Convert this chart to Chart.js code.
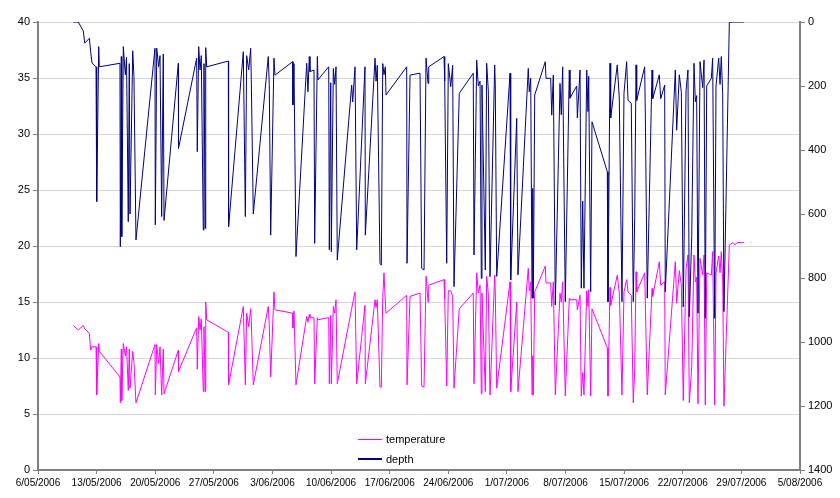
<!DOCTYPE html>
<html>
<head>
<meta charset="utf-8">
<script src="https://cdn.jsdelivr.net/npm/chart.js@4.4.1/dist/chart.umd.min.js"></script>
<style>
  html, body { margin: 0; padding: 0; background: #fff; }
  #wrap { position: relative; width: 840px; height: 498px; }
  #legend { position: absolute; left: 358px; top: 429px; font: 11px "Liberation Sans", Arial, sans-serif; color: #000; }
  #legend .row { display: flex; align-items: center; height: 20px; }
  #legend .swatch { width: 24px; margin-right: 4px; }
</style>
</head>
<body>
<div id="wrap">
  <canvas id="chart" width="840" height="498"></canvas>
  <div id="legend"></div>
</div>
<script>
/* ── Logger data: days since 6/05/2006, temperature (°C), depth (m) ── */
const START_DATE = Date.UTC(2006, 4, 6);
const X_TICK_DAYS = [0, 7, 14, 21, 28, 35, 42, 49, 56, 63, 70, 77, 84, 91];
const TEMP_TICKS = [0, 5, 10, 15, 20, 25, 30, 35, 40];
const DEPTH_TICKS = [0, 200, 400, 600, 800, 1000, 1200, 1400];

const days = [
  4.22, 4.81, 5.41, 5.58, 6.13, 6.29, 6.45, 6.93, 7.01, 7.25, 7.32,
  9.79, 9.83, 9.95, 10.00, 10.19, 10.43, 10.57, 10.78, 10.90, 10.99, 11.31, 11.46, 11.70,
  13.97, 14.01, 14.18, 14.41, 14.57, 14.77, 14.96, 15.05, 16.76, 16.78,
  18.95, 19.02, 19.19, 19.35, 19.50, 19.74, 19.82, 19.98, 20.03, 20.15, 22.73, 22.76,
  24.52, 24.76, 24.92, 25.16, 25.40, 25.47, 25.71, 27.50, 27.62, 27.79, 28.18, 28.30,
  30.42, 30.44, 30.57, 30.81, 32.09, 32.24, 32.40, 32.48, 32.96, 33.04, 33.36, 33.44, 33.92,
  34.72, 34.79, 34.96, 35.03, 35.27, 35.43, 35.59, 35.74, 37.46, 37.58, 37.86, 38.06,
  39.05, 39.09, 40.25, 40.37, 40.52, 40.84, 41.00, 41.17, 41.32, 41.48, 41.56,
  44.03, 44.07, 44.43, 45.62, 45.82, 46.10, 46.34, 46.58, 46.66,
  48.49, 48.57, 48.81, 49.00, 49.29, 49.52, 49.68, 50.31,
  51.98, 52.07, 52.39, 52.58, 52.79, 52.94, 53.02, 53.42, 53.58, 53.78, 53.98,
  54.54, 54.61, 54.78, 56.37, 56.45, 57.17, 57.32,
  58.55, 58.67, 58.84, 59.00, 59.08, 59.15, 59.32, 60.58, 60.67, 61.23, 61.35, 61.54, 61.78,
  62.34, 62.49, 62.66, 62.97, 63.45, 63.53, 64.33, 64.41, 64.73, 64.88, 65.05, 65.20,
  65.53, 65.68, 65.77, 66.00, 66.16, 67.99, 68.07, 68.31, 68.39,
  69.18, 69.42, 69.74, 69.98, 70.30, 70.46, 70.85, 71.09, 71.26, 71.42, 71.50,
  72.45, 72.53, 72.76, 73.33, 73.41, 74.20, 74.36, 74.84, 74.91,
  76.11, 76.27, 76.59, 76.83, 77.06, 77.39, 77.62, 77.78, 78.07, 78.34, 78.50, 78.66, 78.82,
  79.06, 79.38, 79.54, 79.69, 79.86, 80.41, 80.57, 80.81, 80.97, 81.29, 81.45, 81.60, 81.77, 81.92,
  82.56, 83.00, 83.24, 83.48, 84.31
];

const temperature = [
  12.9, 12.5, 12.9, 12.6, 12.2, 10.7, 11.0, 11.0, 6.7, 11.3, 10.6,
  8.3, 6.0, 10.8, 6.2, 11.3, 10.2, 11.0, 7.1, 10.8, 7.3, 10.6, 9.6, 6.0,
  11.2, 6.7, 11.2, 9.5, 11.0, 6.7, 10.8, 6.8, 10.7, 8.8,
  12.7, 9.0, 13.7, 12.5, 13.5, 7.0, 12.8, 7.0, 15.0, 13.4, 12.3, 7.6,
  14.6, 7.6, 14.0, 12.8, 14.4, 13.4, 7.6, 14.6, 13.0, 8.3, 15.9, 14.3,
  14.0, 12.7, 14.2, 7.6, 13.7, 13.2, 13.9, 13.6, 13.6, 7.7, 13.6, 13.4, 13.5,
  13.6, 7.7, 13.8, 7.7, 14.6, 14.0, 15.2, 7.7, 14.4, 14.9, 15.9, 7.7,
  14.7, 7.7, 15.2, 14.5, 15.2, 7.4, 7.4, 15.4, 17.6, 15.0, 14.0,
  15.6, 7.6, 15.5, 15.8, 7.5, 7.4, 17.3, 15.0, 16.5,
  17.0, 15.3, 7.5, 16.0, 16.0, 15.5, 7.3, 14.4,
  15.8, 7.7, 17.6, 15.8, 16.5, 6.8, 15.8, 7.0, 17.3, 15.7, 6.7,
  17.4, 15.9, 7.3, 16.8, 7.0, 15.0, 7.0,
  18.0, 16.0, 16.8, 6.7, 10.2, 6.7, 15.9, 18.2, 16.7, 16.7, 14.6, 16.8, 6.7,
  15.8, 15.0, 16.8, 6.6, 15.3, 15.2, 15.2, 14.3, 15.6, 6.6, 8.7, 6.7,
  16.0, 14.6, 16.1, 6.6, 14.4, 10.9, 6.6, 16.3, 14.7,
  17.4, 15.8, 6.7, 15.9, 17.0, 15.9, 15.6, 6.0, 9.0, 17.7, 15.9,
  17.6, 15.0, 6.7, 16.2, 15.5, 18.6, 16.5, 16.8, 6.7,
  18.6, 14.9, 17.8, 16.5, 6.2, 18.0, 19.2, 6.0, 9.2, 19.2, 16.8, 17.2, 5.9,
  18.9, 17.4, 19.2, 5.8, 17.6, 17.4, 19.5, 5.8, 17.6, 19.1, 17.6, 19.5, 16.8, 5.7,
  20.1, 20.3, 20.1, 20.3, 20.3
];

const depth = [
  0, 0, 28, 66, 51, 93, 128, 140, 561, 77, 140,
  129, 702, 108, 671, 77, 165, 110, 624, 130, 600, 90, 170, 681,
  82, 634, 82, 140, 105, 608, 100, 620, 129, 395,
  113, 405, 77, 150, 105, 650, 130, 645, 80, 140, 122, 640,
  93, 608, 105, 150, 82, 180, 600, 108, 195, 666, 113, 166,
  124, 259, 130, 733, 129, 218, 108, 155, 150, 692, 108, 181, 165,
  140, 712, 190, 718, 145, 195, 140, 744, 197, 250, 140, 712,
  140, 666, 113, 185, 135, 754, 760, 130, 165, 140, 228,
  140, 754, 166, 160, 770, 775, 113, 192, 140,
  108, 185, 754, 130, 202, 135, 827, 223,
  160, 728, 119, 200, 185, 801, 197, 775, 129, 215, 796,
  134, 197, 795, 160, 806, 301, 790,
  145, 218, 176, 863, 520, 863, 228, 124, 176, 176, 291, 166, 884,
  192, 290, 140, 874, 150, 238, 200, 300, 150, 832, 560, 832,
  150, 280, 170, 843, 312, 468, 874, 129, 300,
  134, 240, 874, 223, 124, 245, 254, 874, 610, 134, 245,
  140, 291, 863, 150, 240, 165, 240, 197, 843,
  150, 338, 165, 220, 890, 215, 150, 921, 670, 129, 249, 230, 910,
  124, 205, 119, 926, 200, 176, 113, 926, 200, 113, 195, 108, 228, 905,
  1, 0, 0, 0, 0
];

function dayLabel(day) {
  const d = new Date(START_DATE + day * 86400000);
  const mm = String(d.getUTCMonth() + 1).padStart(2, '0');
  return d.getUTCDate() + '/' + mm + '/' + d.getUTCFullYear();
}

const AXIS_GREY = '#808080';
const FONT = 'Liberation Sans';

const ctx = document.getElementById('chart');
const chart = new Chart(ctx, {
  type: 'line',
  data: {
    datasets: [
      {
        label: 'temperature',
        data: days.map((d, i) => ({ x: d, y: temperature[i] })),
        borderColor: '#ff00ff',
        backgroundColor: '#ff00ff',
        borderWidth: 1,
        pointRadius: 0,
        tension: 0,
        yAxisID: 'yTemp',
        order: 1
      },
      {
        label: 'depth',
        data: days.map((d, i) => ({ x: d, y: depth[i] })),
        borderColor: '#000080',
        backgroundColor: '#000080',
        borderWidth: 1,
        pointRadius: 0,
        tension: 0,
        yAxisID: 'yDepth',
        order: 0
      }
    ]
  },
  options: {
    responsive: false,
    animation: false,
    layout: { padding: { top: 22, left: 0, right: 0, bottom: 0 } },
    plugins: {
      legend: { display: false },
      tooltip: { enabled: false }
    },
    scales: {
      x: {
        type: 'linear',
        min: 0,
        max: 91,
        afterBuildTicks: (scale) => { scale.ticks = X_TICK_DAYS.map(v => ({ value: v })); },
        afterFit: (scale) => { scale.height = 28; },
        ticks: {
          autoSkip: false,
          maxRotation: 0,
          padding: 3,
          color: '#000',
          font: { family: FONT, size: 10 },
          callback: (v) => dayLabel(v)
        },
        grid: { drawOnChartArea: false, drawTicks: true, tickLength: 4, tickColor: AXIS_GREY },
        border: { color: AXIS_GREY, width: 2 }
      },
      yTemp: {
        position: 'left',
        min: 0,
        max: 40,
        afterBuildTicks: (scale) => { scale.ticks = TEMP_TICKS.map(v => ({ value: v })); },
        afterFit: (scale) => { scale.width = 38; },
        ticks: { color: '#000', padding: 3, font: { family: FONT, size: 11 } },
        grid: { color: '#d8d8d8', tickColor: AXIS_GREY, tickLength: 5 },
        border: { color: AXIS_GREY, width: 2 }
      },
      yDepth: {
        position: 'right',
        reverse: true,
        min: 0,
        max: 1400,
        afterBuildTicks: (scale) => { scale.ticks = DEPTH_TICKS.map(v => ({ value: v })); },
        afterFit: (scale) => { scale.width = 40; },
        ticks: {
          color: '#000',
          padding: 3,
          font: { family: FONT, size: 11 },
          callback: (v) => String(v)
        },
        grid: { drawOnChartArea: false, tickColor: AXIS_GREY, tickLength: 5 },
        border: { color: AXIS_GREY, width: 2 }
      }
    }
  }
});

// HTML legend built from the datasets
const legendEl = document.getElementById('legend');
chart.data.datasets.forEach(ds => {
  const row = document.createElement('div');
  row.className = 'row';
  const sw = document.createElement('span');
  sw.className = 'swatch';
  sw.style.borderTop = (ds.label === 'depth' ? 2 : 1) + 'px solid ' + ds.borderColor;
  const txt = document.createElement('span');
  txt.textContent = ds.label;
  row.appendChild(sw);
  row.appendChild(txt);
  legendEl.appendChild(row);
});
</script>
</body>
</html>
